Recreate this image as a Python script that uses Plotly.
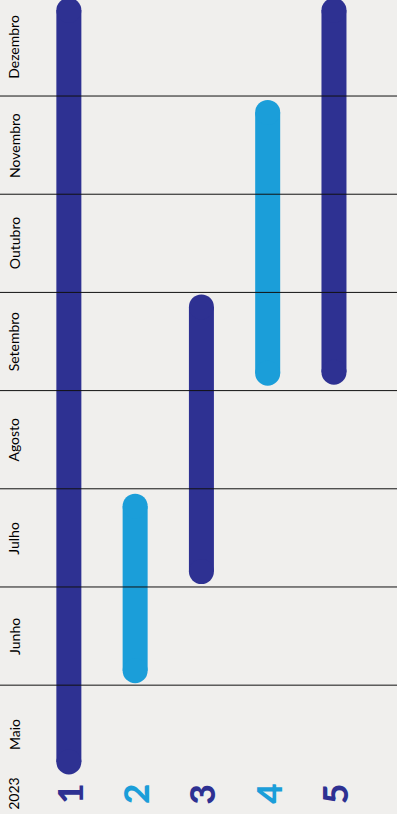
import plotly.graph_objects as go

# ---- data ----
months = ["Maio", "Junho", "Julho", "Agosto", "Setembro", "Outubro", "Novembro", "Dezembro"]
year_label = "2023"
tasks = ["1", "2", "3", "4", "5"]
task_start = [0.09, 1.02, 2.03, 4.05, 4.06]   # months since 1 May 2023
task_end = [8.0, 2.95, 4.98, 6.96, 8.0]
task_color_key = ["dark", "light", "dark", "light", "dark"]

# ---- style ----
W, H = 397, 814
BG = "#f0efed"
COLORS = {"dark": "#2e3192", "light": "#1b9ed9"}
BAR_PX = 25
Y_RANGE = [-0.312, 7.978]
X_RANGE = [-0.039, 5.951]
px_per_month = H / (Y_RANGE[1] - Y_RANGE[0])
cap = (BAR_PX / 2) / px_per_month

fig = go.Figure()
for i, name in enumerate(tasks):
    x = i + 1
    col = COLORS[task_color_key[i]]
    fig.add_trace(go.Scatter(
        x=[x, x],
        y=[task_start[i] + cap, task_end[i] - cap],
        mode="lines+markers",
        line=dict(color=col, width=BAR_PX),
        marker=dict(color=col, size=BAR_PX, line=dict(width=0)),
        hoverinfo="skip",
        showlegend=False,
    ))
    fig.add_annotation(
        x=x, y=-0.108, text=name, textangle=-90, showarrow=False,
        xanchor="center", yanchor="middle",
        font=dict(family="Lato", size=35, color=col, weight=900),
    )

# month boundary lines (above bars)
for b in range(1, len(months)):
    fig.add_shape(type="line", xref="paper", x0=0, x1=1, yref="y", y0=b, y1=b,
                  line=dict(color="#111111", width=1), layer="above")

# month labels
label_x = 0.17
for m, name in enumerate(months):
    fig.add_annotation(
        x=label_x, y=m + 0.5, text=name, textangle=-90, showarrow=False,
        xanchor="center", yanchor="middle",
        font=dict(family="Lato", size=14, color="#000000"),
    )
fig.add_annotation(
    x=label_x, y=-0.108, text=year_label, textangle=-90, showarrow=False,
    xanchor="center", yanchor="middle",
    font=dict(family="Lato", size=14, color="#000000"),
)

fig.update_layout(
    width=W, height=H, autosize=False,
    margin=dict(l=0, r=0, t=0, b=0, pad=0),
    paper_bgcolor=BG, plot_bgcolor=BG,
    xaxis=dict(range=X_RANGE, visible=False, fixedrange=True),
    yaxis=dict(range=Y_RANGE, visible=False, fixedrange=True),
)

fig.write_html("out.html", config={"displayModeBar": False})
